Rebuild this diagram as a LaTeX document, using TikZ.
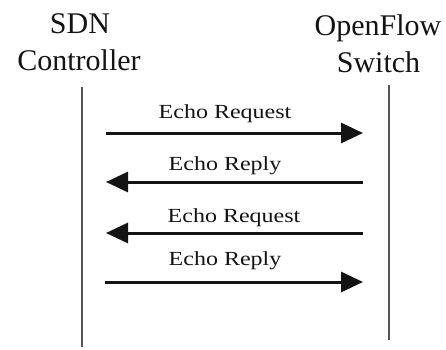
\documentclass[tikz,border=0pt]{standalone}
\usepackage{fontspec}
\setmainfont{Liberation Serif}
\usetikzlibrary{arrows.meta}
\definecolor{inkc}{HTML}{141414}
\definecolor{lifec}{HTML}{555555}
\tikzset{
  head/.style={font=\fontsize{30}{36}\selectfont, text=inkc, inner sep=0pt, anchor=base},
  msglabel/.style={font=\fontsize{20}{24}\selectfont, text=inkc, inner sep=0pt, anchor=base},
  lifeline/.style={draw=lifec, line width=2pt},
  msg/.style={draw=inkc, line width=3pt, -{Triangle[length=22pt,width=20pt]}}
}
\newcommand{\wide}[1]{\scalebox{1.2}[1]{#1}}
\begin{document}
\begin{tikzpicture}[x=1pt, y=-1pt]
  \useasboundingbox[fill=white] (0,0) rectangle (446,349);

  % participants
  \node[head] (ctrlA) at (80,33) {SDN};
  \node[head] (ctrlB) at (79,70) {Controller};
  \node[head] (swA) at (378,35) {OpenFlow};
  \node[head] (swB) at (378.5,72) {Switch};

  % lifelines
  \coordinate (ltop) at (82,87);
  \coordinate (lbot) at (82,347);
  \coordinate (rtop) at (389,85);
  \coordinate (rbot) at (389,340);
  \draw[lifeline] (ltop) -- (lbot);
  \draw[lifeline] (rtop) -- (rbot);

  % message end points
  \coordinate (m1l) at (106,133);  \coordinate (m1r) at (363,133);
  \coordinate (m2l) at (106,182);  \coordinate (m2r) at (363,182);
  \coordinate (m3l) at (106,233);  \coordinate (m3r) at (363,233);
  \coordinate (m4l) at (105,282);  \coordinate (m4r) at (363,282);

  % messages
  \draw[msg] (m1l) -- (m1r);
  \draw[msg] (m2r) -- (m2l);
  \draw[msg] (m3r) -- (m3l);
  \draw[msg] (m4l) -- (m4r);

  % message labels
  \node[msglabel] (t1) at (225,118) {\wide{Echo Request}};
  \node[msglabel] (t2) at (225,170) {\wide{Echo Reply}};
  \node[msglabel] (t3) at (234,222) {\wide{Echo Request}};
  \node[msglabel] (t4) at (225,265) {\wide{Echo Reply}};
\end{tikzpicture}
\end{document}
